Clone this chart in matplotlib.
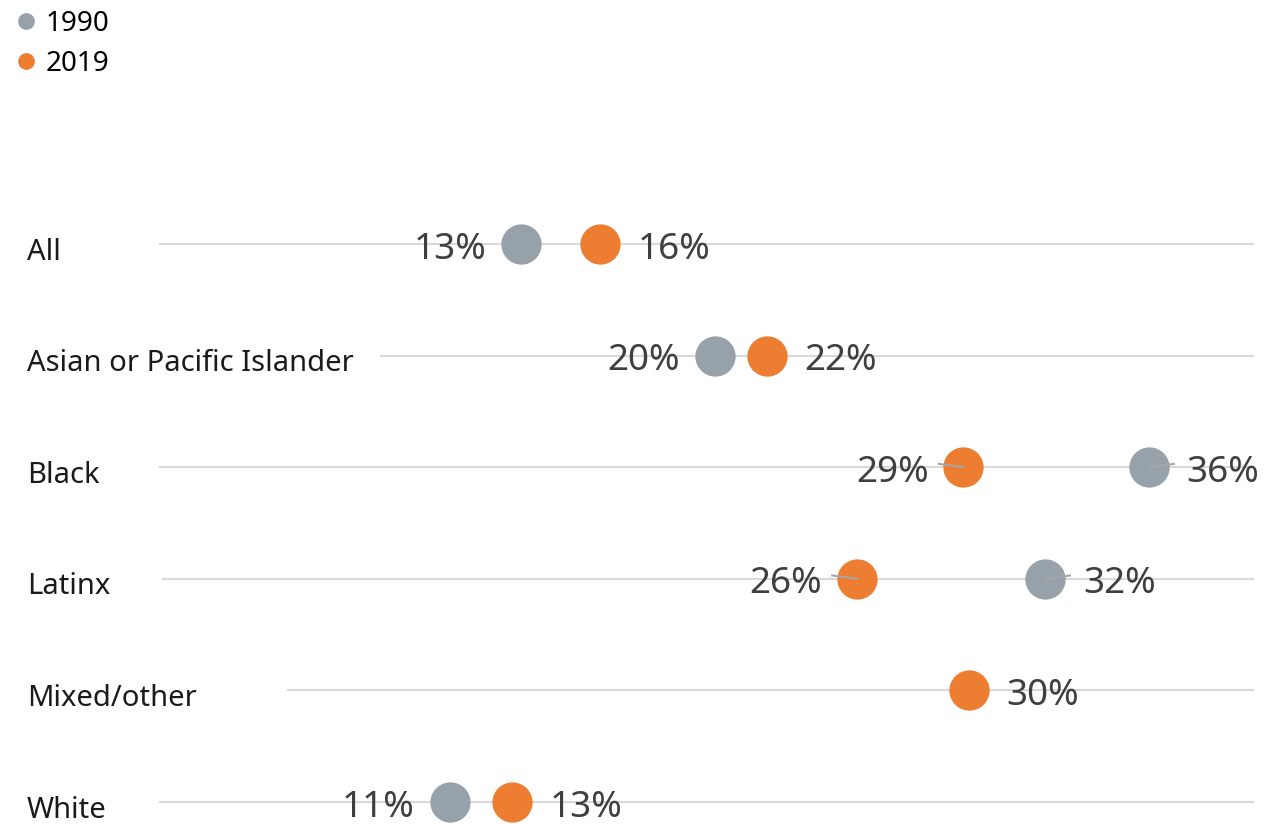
import numpy as np
import matplotlib.pyplot as plt
from matplotlib.lines import Line2D

plt.rcParams['font.family'] = ['Noto Sans', 'DejaVu Sans']

categories = ["All", "Asian or Pacific Islander", "Black", "Latinx", "Mixed/other", "White"]
values_1990 = [13.2, 20.3, 36.2, 32.4, np.nan, 10.6]
values_2019 = [16.1, 22.2, 29.4, 25.5, 29.6, 12.9]
line_start = [0, 8.1, 0, 0.1, 4.7, 0]   # where the guide line begins, in % units

GRAY = "#97A1A9"
ORANGE = "#ED7D31"
TXT = "#3F3F3F"

W, H = 1277, 824
fig = plt.figure(figsize=(W / 100, H / 100), dpi=100)
ax = fig.add_axes([0, 0, 1, 1])

px = 1093 / 40.0          # pixels per % point
x0 = 160                  # pixel where 0% sits
ax.set_xlim(-x0 / px, 40 + (W - 1253) / px)
row_px = 111.6
top_px = 244
ax.set_ylim((H - top_px) / row_px, -top_px / row_px)
ax.axis("off")

y = np.arange(len(categories))

for i, cat in enumerate(categories):
    ax.plot([line_start[i], 40], [i, i], color="#D9D9D9", lw=1.5, zorder=1)
    fig.text(27 / W, 1 - (top_px + row_px * i + 8) / H, cat, fontsize=21,
             color="#1A1A1A", va="center", ha="left")

ax.scatter(values_1990, y, s=29 ** 2, color=GRAY, zorder=3, linewidths=0)
ax.scatter(values_2019, y, s=29 ** 2, color=ORANGE, zorder=3, linewidths=0)

fs = 26.5
left_off, right_off = 25, 27


def label(v, i, side):
    if side == "left":
        ax.annotate(f"{v:.0f}%", (v, i), xytext=(-left_off, -4), textcoords="offset points",
                    ha="right", va="center", fontsize=fs, color=TXT, zorder=4)
    else:
        ax.annotate(f"{v:.0f}%", (v, i), xytext=(right_off, -4), textcoords="offset points",
                    ha="left", va="center", fontsize=fs, color=TXT, zorder=4)


for i in range(len(categories)):
    g, o = values_1990[i], values_2019[i]
    if np.isnan(g):
        label(o, i, "right")
        continue
    if g < o:
        label(g, i, "left")
        label(o, i, "right")
    else:
        label(o, i, "left")
        label(g, i, "right")
        # small leader lines
        ax.plot([o, o - 0.9], [i, i - 0.03], color="#A6A6A6", lw=1.5, zorder=4)
        ax.plot([g, g + 0.9], [i, i - 0.03], color="#A6A6A6", lw=1.5, zorder=4)

handles = [
    Line2D([], [], marker="o", ls="", color=GRAY, markersize=11, label="1990"),
    Line2D([], [], marker="o", ls="", color=ORANGE, markersize=11, label="2019"),
]
fig.legend(handles=handles, loc="upper left", bbox_to_anchor=(1 / W, 1 + 1 / H),
           frameon=False, fontsize=20, handletextpad=0.2, labelspacing=0.42,
           handlelength=1.0, borderaxespad=0)

fig.savefig("out.png", dpi=100)
